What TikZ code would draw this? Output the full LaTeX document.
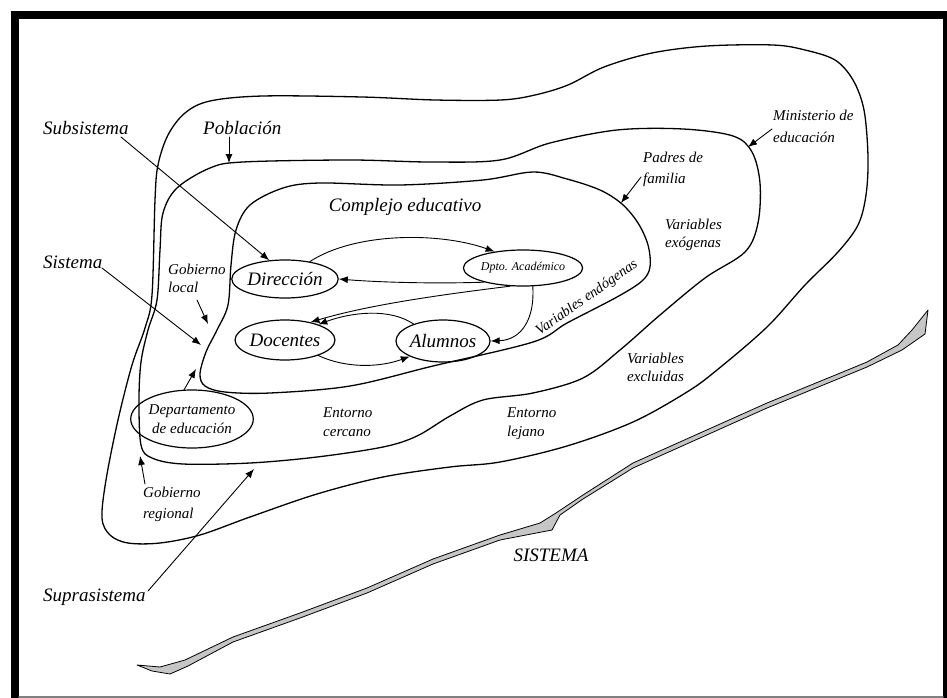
\documentclass[tikz,border=0pt]{standalone}
\usepackage{fontspec}
\setmainfont{Liberation Serif}
\usetikzlibrary{arrows.meta,shapes.geometric}

\begin{document}
\begin{tikzpicture}[x=1pt,y=-1pt,
  line join=round, line cap=round,
  blob/.style={line width=1.3pt},
  arr/.style={line width=0.9pt, -{Latex[length=9pt,width=7pt]}},
  big/.style={font=\fontsize{19}{21}\selectfont\itshape, inner sep=0pt},
  sml/.style={font=\fontsize{15}{18}\selectfont\itshape, inner sep=0pt, align=left},
  bub/.style={ellipse, draw, line width=1.2pt, inner sep=0pt,
              font=\fontsize{19}{21}\selectfont\itshape}]

\useasboundingbox (0,0) rectangle (947,698);
\fill[white] (0,0) rectangle (947,698);

% frame
\fill[black] (11,11) rectangle (947,19);
\fill[black] (11,11) rectangle (19,698);
\fill[black] (943,11) rectangle (947,698);
\draw[gray, line width=1.5pt] (19,697) -- (943,697);

% outer region (Ministerio de educacion)
\draw[blob] plot[smooth cycle, tension=0.55] coordinates {
 (155,200) (158,165) (168,135) (185,113) (210,101) (263,96) (362,97)
 (435,100) (501,100) (535,95) (568,85) (604,67) (652,53) (707,46)
 (773,45) (805,50) (835,60) (853,80) (864,110) (868,157) (866,195)
 (858,225) (838,252) (805,285) (767,327) (717,370) (687,392) (633,422)
 (567,446) (500,462) (450,467) (383,477) (317,494) (250,517) (200,535)
 (160,543) (128,543) (110,535) (102,518) (106,480) (118,420) (132,365)
 (145,328) (152,295)};

% middle region (entorno cercano)
\draw[blob] plot[smooth cycle, tension=0.55] coordinates {
 (160,250) (163,213) (177,188) (210,168) (243,162) (350,160) (430,162)
 (500,160) (550,143) (617,130) (683,129) (733,136) (752,152) (760,183)
 (758,223) (745,252) (705,278) (660,315) (620,350) (583,378) (533,393)
 (483,400) (450,416) (417,436) (383,447) (317,457) (250,463) (183,464)
 (152,458) (141,445) (139,400) (141,362) (148,330) (157,300)};

% inner region (complejo educativo)
\draw[blob] plot[smooth cycle, tension=0.55] coordinates {
 (231,265) (236,230) (250,205) (283,188) (320,183) (400,185) (483,180)
 (533,172) (567,179) (600,190) (622,204) (638,223) (648,245) (650,267)
 (642,281) (617,297) (567,323) (533,342) (433,366) (350,386) (270,393)
 (225,392) (205,386) (200,374) (206,352) (217,330) (228,305)};

% the system line
\filldraw[fill=gray!45, draw=black, line width=0.8pt]
 (137,665) -- (160,667) -- (185,660) -- (233,637) -- (300,613) -- (367,588)
 -- (433,559) -- (500,535) -- (540,523) -- (556,513) -- (583,495) -- (633,463)
 -- (700,433) -- (767,403) -- (833,376) -- (867,362) -- (898,345) -- (912,330)
 -- (928,310) -- (925,334) -- (902,350) -- (867,367) -- (833,381) -- (767,408)
 -- (700,438) -- (633,468) -- (583,499) -- (560,515) -- (552,530) -- (500,540)
 -- (433,564) -- (367,593) -- (300,618) -- (233,642) -- (188,666) -- (170,674)
 -- (152,671) -- cycle;

% elements of the educational complex
\node[bub, minimum width=86pt, minimum height=38pt] (dir) at (285,279) {Dirección};
\node[bub, minimum width=86pt, minimum height=40pt] (doc) at (285,340) {Docentes};
\node[bub, minimum width=86pt, minimum height=42pt] (alu) at (443,341) {Alumnos};
\node[bub, minimum width=94pt, minimum height=36pt,
      font=\fontsize{12}{13}\selectfont\itshape] (dpto) at (523,268) {Dpto. Académico};
\node[bub, minimum width=104pt, minimum height=58pt, align=center,
      font=\fontsize{15}{19}\selectfont\itshape] (dep) at (192,419) {Departamento\\de educación};

% labels
\node[big, anchor=west] (sub) at (43,128) {Subsistema};
\node[big, anchor=west] (pob) at (203,128) {Población};
\node[big, anchor=west] (sis) at (43,262) {Sistema};
\node[big] (cplx) at (405,207) {Complejo educativo};
\node[big, anchor=west] (supra) at (43,597) {Suprasistema};
\node[big] (sistema) at (551,555) {SISTEMA};
\node[sml, anchor=north west] (gloc) at (168,264) {Gobierno\\local};
\node[sml, anchor=north west] (exo) at (665,219) {Variables\\exógenas};
\node[sml, anchor=north west, font=\fontsize{15}{21}\selectfont\itshape] (padres) at (643,152) {Padres de\\familia};
\node[sml, anchor=north west, font=\fontsize{15}{22}\selectfont\itshape] (mini) at (773,110) {Ministerio de\\educación};
\node[sml, anchor=north west] (excl) at (627,353) {Variables\\excluidas};
\node[sml, anchor=north west, font=\fontsize{15}{19}\selectfont\itshape] (cerca) at (323,407) {Entorno\\cercano};
\node[sml, anchor=north west, font=\fontsize{15}{19}\selectfont\itshape] (lejos) at (507,407) {Entorno\\lejano};
\node[sml, anchor=north west, font=\fontsize{15}{21}\selectfont\itshape] (greg) at (143,487) {Gobierno\\regional};
\node[sml, rotate=35, font=\fontsize{14.5}{16}\selectfont\itshape] (endo) at (587,298) {Variables endógenas};

% arrows inside the complex
\draw[arr] (dir.35) .. controls (355,232) and (440,232) .. (dpto.150);
\draw[arr] (dpto.200) .. controls (430,284) and (375,282) .. (dir.east);
\draw[arr] (dpto.235) .. controls (430,296) and (365,306) .. (doc.35);
\draw[arr] (dpto.-62) .. controls (535,318) and (522,340) .. (alu.east);
\draw[arr] (alu.150) .. controls (390,308) and (352,312) .. (doc.25);
\draw[arr] (doc.-25) .. controls (345,368) and (378,368) .. (alu.205);

% pointers to the regions
\coordinate (subA) at (121,137);
\coordinate (sisA) at (102,268);
\coordinate (sisB) at (201,345);
\coordinate (glocA) at (197,300);
\coordinate (glocB) at (208,324);
\coordinate (pobA) at (229,137);
\coordinate (pobB) at (229,163);
\coordinate (padA) at (641,177);
\coordinate (padB) at (621,203);
\coordinate (minA) at (772,129);
\coordinate (minB) at (748,147);
\coordinate (depB) at (196,369);
\coordinate (gregA) at (145,484);
\coordinate (gregB) at (140,456);
\coordinate (supA) at (148,591);
\coordinate (supB) at (254,469);

\draw[arr] (subA) -- (dir.130);
\draw[arr] (sisA) -- (sisB);
\draw[arr] (glocA) -- (glocB);
\draw[arr] (pobA) -- (pobB);
\draw[arr] (padA) -- (padB);
\draw[arr] (minA) -- (minB);
\draw[arr] (dep.105) -- (depB);
\draw[arr] (gregA) -- (gregB);
\draw[arr] (supA) -- (supB);
\end{tikzpicture}
\end{document}
